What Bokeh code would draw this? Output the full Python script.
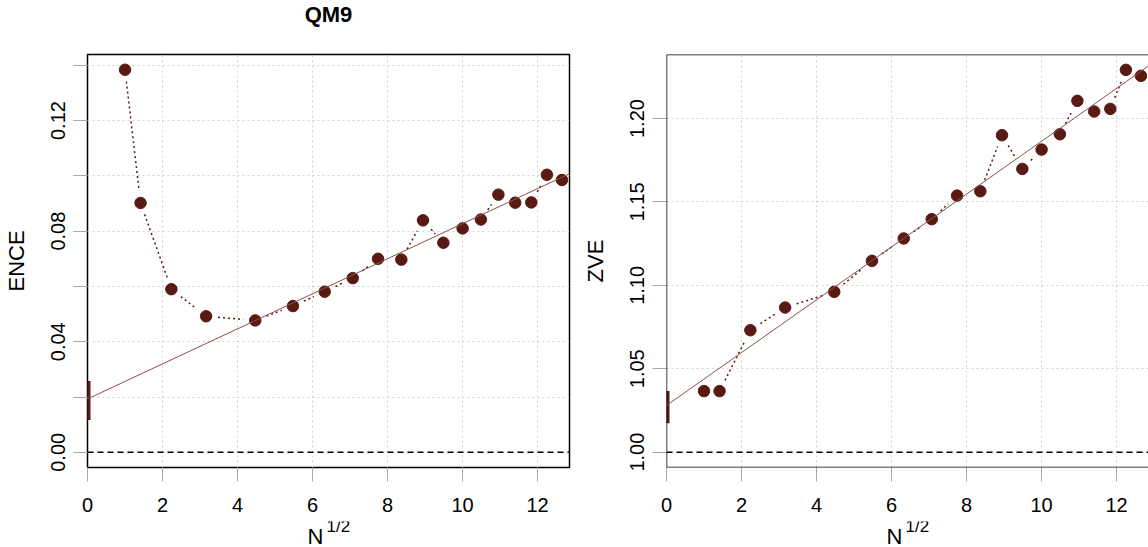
import math
from bokeh.plotting import figure
from bokeh.layouts import row, column
from bokeh.models import FixedTicker, Slope, Span, ColumnDataSource, Range1d
from bokeh.core.properties import value
from bokeh.embed import file_html
from bokeh.resources import INLINE

# ---------------- data ----------------
N = [1, 2, 5, 10, 20, 30, 40, 50, 60, 70, 80, 90, 100, 110, 120, 130, 140, 150, 160]
ence = [0.1384, 0.0902, 0.0590, 0.0492, 0.0477, 0.0529, 0.0581, 0.0630, 0.0700, 0.0697,
        0.0839, 0.0758, 0.0810, 0.0842, 0.0932, 0.0903, 0.0904, 0.1004, 0.0985]
zve = [1.0366, 1.0366, 1.0731, 1.0867, 1.0961, 1.1147, 1.1281, 1.1397, 1.1538, 1.1564,
       1.1900, 1.1698, 1.1814, 1.1906, 1.2106, 1.2042, 1.2058, 1.2292, 1.2256]
ence_fit = (0.0193, 0.00634)      # intercept, slope
ence_ci = (0.0117, 0.0258)        # interval on intercept
zve_fit = (1.0280, 0.01584)
zve_ci = (1.0174, 1.0366)
x_ticks = [0, 2, 4, 6, 8, 10, 12]
ence_ticks = [0.00, 0.02, 0.04, 0.06, 0.08, 0.10, 0.12, 0.14]
ence_labels = {0.00: "0.00", 0.04: "0.04", 0.08: "0.08", 0.12: "0.12"}
zve_ticks = [1.00, 1.05, 1.10, 1.15, 1.20]
zve_labels = {1.00: "1.00", 1.05: "1.05", 1.10: "1.10", 1.15: "1.15", 1.20: "1.20"}
title_text = "QM9"
xlab_main = "N"
xlab_sup = "1/2"

xs = [math.sqrt(n) for n in N]

PT = "#581a13"
FIT = "#8a514b"
FONT = "Liberation Sans"
W = 1148
H = 547
TOP_BAND = 53
FRAME_H = 413
MAIN_BOTTOM = 54
MAIN_H = 1 + FRAME_H + MAIN_BOTTOM
BOT_BAND = H - TOP_BAND - MAIN_H
FRAME_W = 482
P1_LEFT, P1_RIGHT = 87, 7
P2_LEFT = 90
P1_W = P1_LEFT + FRAME_W + P1_RIGHT
P2_W = W - P1_W


def panel(yvals, fit, ci, ref, ticks, labels, ylabel, yr, xr, frame_w, width, mb_left, mb_right,
          outline=True):
    p = figure(width=width, height=MAIN_H, output_backend="svg", toolbar_location=None,
               title=None, x_range=Range1d(*xr), y_range=Range1d(*yr),
               min_border_left=mb_left, min_border_right=mb_right,
               min_border_top=1, min_border_bottom=MAIN_BOTTOM)
    p.background_fill_color = "white"
    p.border_fill_color = "white"
    if outline:
        p.outline_line_color = "black"
        p.outline_line_width = 1.5
        p.outline_line_alpha = 1
    else:
        p.outline_line_color = None
        for loc, dim in ((xr[0], "height"), (yr[0], "width"), (yr[1], "width")):
            p.add_layout(Span(location=loc, dimension=dim, line_color="black", line_width=1.5))
    # axes
    xa = p.xaxis[0]
    ya = p.yaxis[0]
    xa.ticker = FixedTicker(ticks=x_ticks)
    ya.ticker = FixedTicker(ticks=ticks)
    ya.major_label_overrides = {t: labels.get(t, "") for t in ticks}
    for ax in (xa, ya):
        ax.axis_line_color = None
        ax.major_tick_out = 14
        ax.major_tick_in = 0
        ax.major_tick_line_color = "#a8a8a8"
        ax.minor_tick_line_color = None
        ax.major_label_text_font = FONT
        ax.major_label_text_font_size = "20px"
        ax.major_label_text_color = "black"
    xa.major_label_standoff = 16
    ya.major_label_standoff = 8
    ya.major_label_orientation = "vertical"
    ya.axis_label = ylabel
    ya.axis_label_text_font = FONT
    ya.axis_label_text_font_size = "22px"
    ya.axis_label_text_font_style = "normal"
    ya.axis_label_text_color = "black"
    ya.axis_label_standoff = 20
    # grids
    p.xgrid.ticker = FixedTicker(ticks=x_ticks)
    p.ygrid.ticker = FixedTicker(ticks=ticks)
    for g in (p.xgrid[0], p.ygrid[0]):
        g.grid_line_color = "#d3d3d3"
        g.grid_line_dash = "2 3"
        g.grid_line_width = 1
    # reference dashed line
    p.add_layout(Span(location=ref, dimension="width", line_color="black",
                      line_dash="6 4", line_width=1.5))
    # linear fit
    p.add_layout(Slope(gradient=fit[1], y_intercept=fit[0], line_color=FIT, line_width=1))
    # interval bar on intercept
    p.segment(x0=[0], y0=[ci[0]], x1=[0], y1=[ci[1]], line_color=PT, line_width=6)
    # dotted connection with gaps around points (type "b")
    sx = frame_w / (xr[1] - xr[0])
    sy = FRAME_H / (yr[1] - yr[0])
    gap = 12.0
    x0s, y0s, x1s, y1s = [], [], [], []
    for i in range(len(xs) - 1):
        dx = (xs[i + 1] - xs[i]) * sx
        dy = (yvals[i + 1] - yvals[i]) * sy
        L = math.hypot(dx, dy)
        if L <= 2 * gap:
            continue
        f = gap / L
        x0s.append(xs[i] + (xs[i + 1] - xs[i]) * f)
        y0s.append(yvals[i] + (yvals[i + 1] - yvals[i]) * f)
        x1s.append(xs[i + 1] - (xs[i + 1] - xs[i]) * f)
        y1s.append(yvals[i + 1] - (yvals[i + 1] - yvals[i]) * f)
    p.segment(x0=x0s, y0=y0s, x1=x1s, y1=y1s, line_color=PT, line_width=1.5, line_dash="2 3")
    src = ColumnDataSource(dict(x=xs, y=yvals))
    p.scatter("x", "y", source=src, size=11.5, fill_color=PT, line_color=PT, marker="circle")
    return p


def band(height):
    b = figure(width=W, height=height, output_backend="svg", toolbar_location=None,
               title=None, x_range=Range1d(0, W), y_range=Range1d(0, height),
               x_axis_type=None, y_axis_type=None,
               min_border_left=0, min_border_right=0, min_border_top=0, min_border_bottom=0)
    b.outline_line_color = None
    b.xgrid.visible = False
    b.ygrid.visible = False
    b.background_fill_color = "white"
    b.border_fill_color = "white"
    return b


p1 = panel(ence, ence_fit, ence_ci, 0.0, ence_ticks, ence_labels, "ENCE",
           (-0.0055, 0.1439), (0, 12.85), FRAME_W, P1_W, P1_LEFT, P1_RIGHT)
p2 = panel(zve, zve_fit, zve_ci, 1.0, zve_ticks, zve_labels, "ZVE",
           (0.9908, 1.2384), (0, 12.85), FRAME_W, P2_W, P2_LEFT, 0, outline=False)

c1 = P1_LEFT + FRAME_W / 2
c2 = P1_W + P2_LEFT + FRAME_W / 2

top = band(TOP_BAND)
top.text(x=[c1], y=[TOP_BAND - 14], text=[title_text], text_font=value(FONT),
         text_font_size="22px", text_font_style="bold", text_color="black",
         text_align="center", text_baseline="alphabetic")

bot = band(BOT_BAND)
bot.text(x=[c1 - 21, c2 - 21], y=[11, 11], text=[xlab_main, xlab_main], text_font=value(FONT),
         text_font_size="22px", text_color="black", text_align="left", text_baseline="alphabetic")
bot.text(x=[c1 - 2, c2 - 2], y=[21, 21], text=[xlab_sup, xlab_sup], text_font=value(FONT),
         text_font_size="17px", text_color="black", text_align="left", text_baseline="alphabetic")

layout = column(top, row(p1, p2), bot)
open("out.html", "w").write(file_html(layout, INLINE))
